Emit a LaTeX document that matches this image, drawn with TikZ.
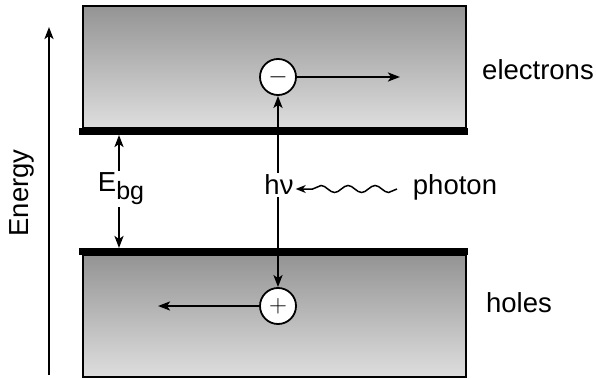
\documentclass[tikz,border=0pt]{standalone}
\usepackage{fontspec}
\setmainfont{Liberation Sans}
\usetikzlibrary{arrows.meta,decorations.pathmorphing}

\begin{document}
\begin{tikzpicture}[x=1pt, y=1pt, every node/.style={font=\fontsize{27.5}{32}\selectfont, inner sep=2pt},
  band/.style={draw=black, line width=1.9pt, top color=black!42, bottom color=black!13},
  bandedge/.style={line width=7pt},
  carrier/.style={circle, draw, line width=1.8pt, fill=white, minimum size=36pt, inner sep=0pt},
  arr/.style={-{Stealth[length=12pt,width=9pt,inset=3pt]}, line width=2.2pt}]
	\useasboundingbox (0,0) rectangle (596,378);
	% energy axis
	\coordinate (e0) at (49,3);
	\coordinate (e1) at (49,351);
	\draw[arr] (e0) -- (e1);
	\node[rotate=90] (energy) at (22,185) {Energy};
	% conduction band
	\shade[band] (83,250) rectangle (466,372);
	\draw[bandedge] (79,246.5) -- (468,246.5);
	% valence band
	\shade[band] (83,1) rectangle (466,123);
	\draw[bandedge] (79,126.5) -- (468,126.5);
	% band gap
	\node (ebg) at (121,189) {E\raisebox{-8pt}{\fontsize{25}{25}\selectfont bg}};
	\coordinate (cbot) at (119,243);
	\coordinate (vtop) at (119,130);
	\draw[arr] (ebg.north -| cbot) -- (cbot);
	\draw[arr] (ebg.south -| vtop) -- (vtop);
	% carriers
	\node[carrier] (minus) at (278,301) {$-$};
	\node[carrier] (plus) at (278,72) {$+$};
	\coordinate (eto) at (400,301);
	\coordinate (hto) at (158,72);
	\draw[arr] (minus) -- (eto);
	\draw[arr] (plus) -- (hto);
	% absorption
	\node (hv) at (279,193) {hν};
	\draw[arr] (hv.north -| minus) -- (minus);
	\draw[arr] (hv.south -| plus) -- (plus);
	\node (photon) at (455,191) {photon};
	\coordinate (w0) at (397,189);
	\draw[-{Stealth[length=10pt,width=8pt,inset=3pt]}, line width=1.5pt, decorate,
	  decoration={snake, amplitude=3.5pt, segment length=27pt, post length=10pt}] (w0) -- (hv.east |- w0);
	% labels
	\node (electrons) at (538,308) {electrons};
	\node (holes) at (519,75) {holes};
\end{tikzpicture}
\end{document}
